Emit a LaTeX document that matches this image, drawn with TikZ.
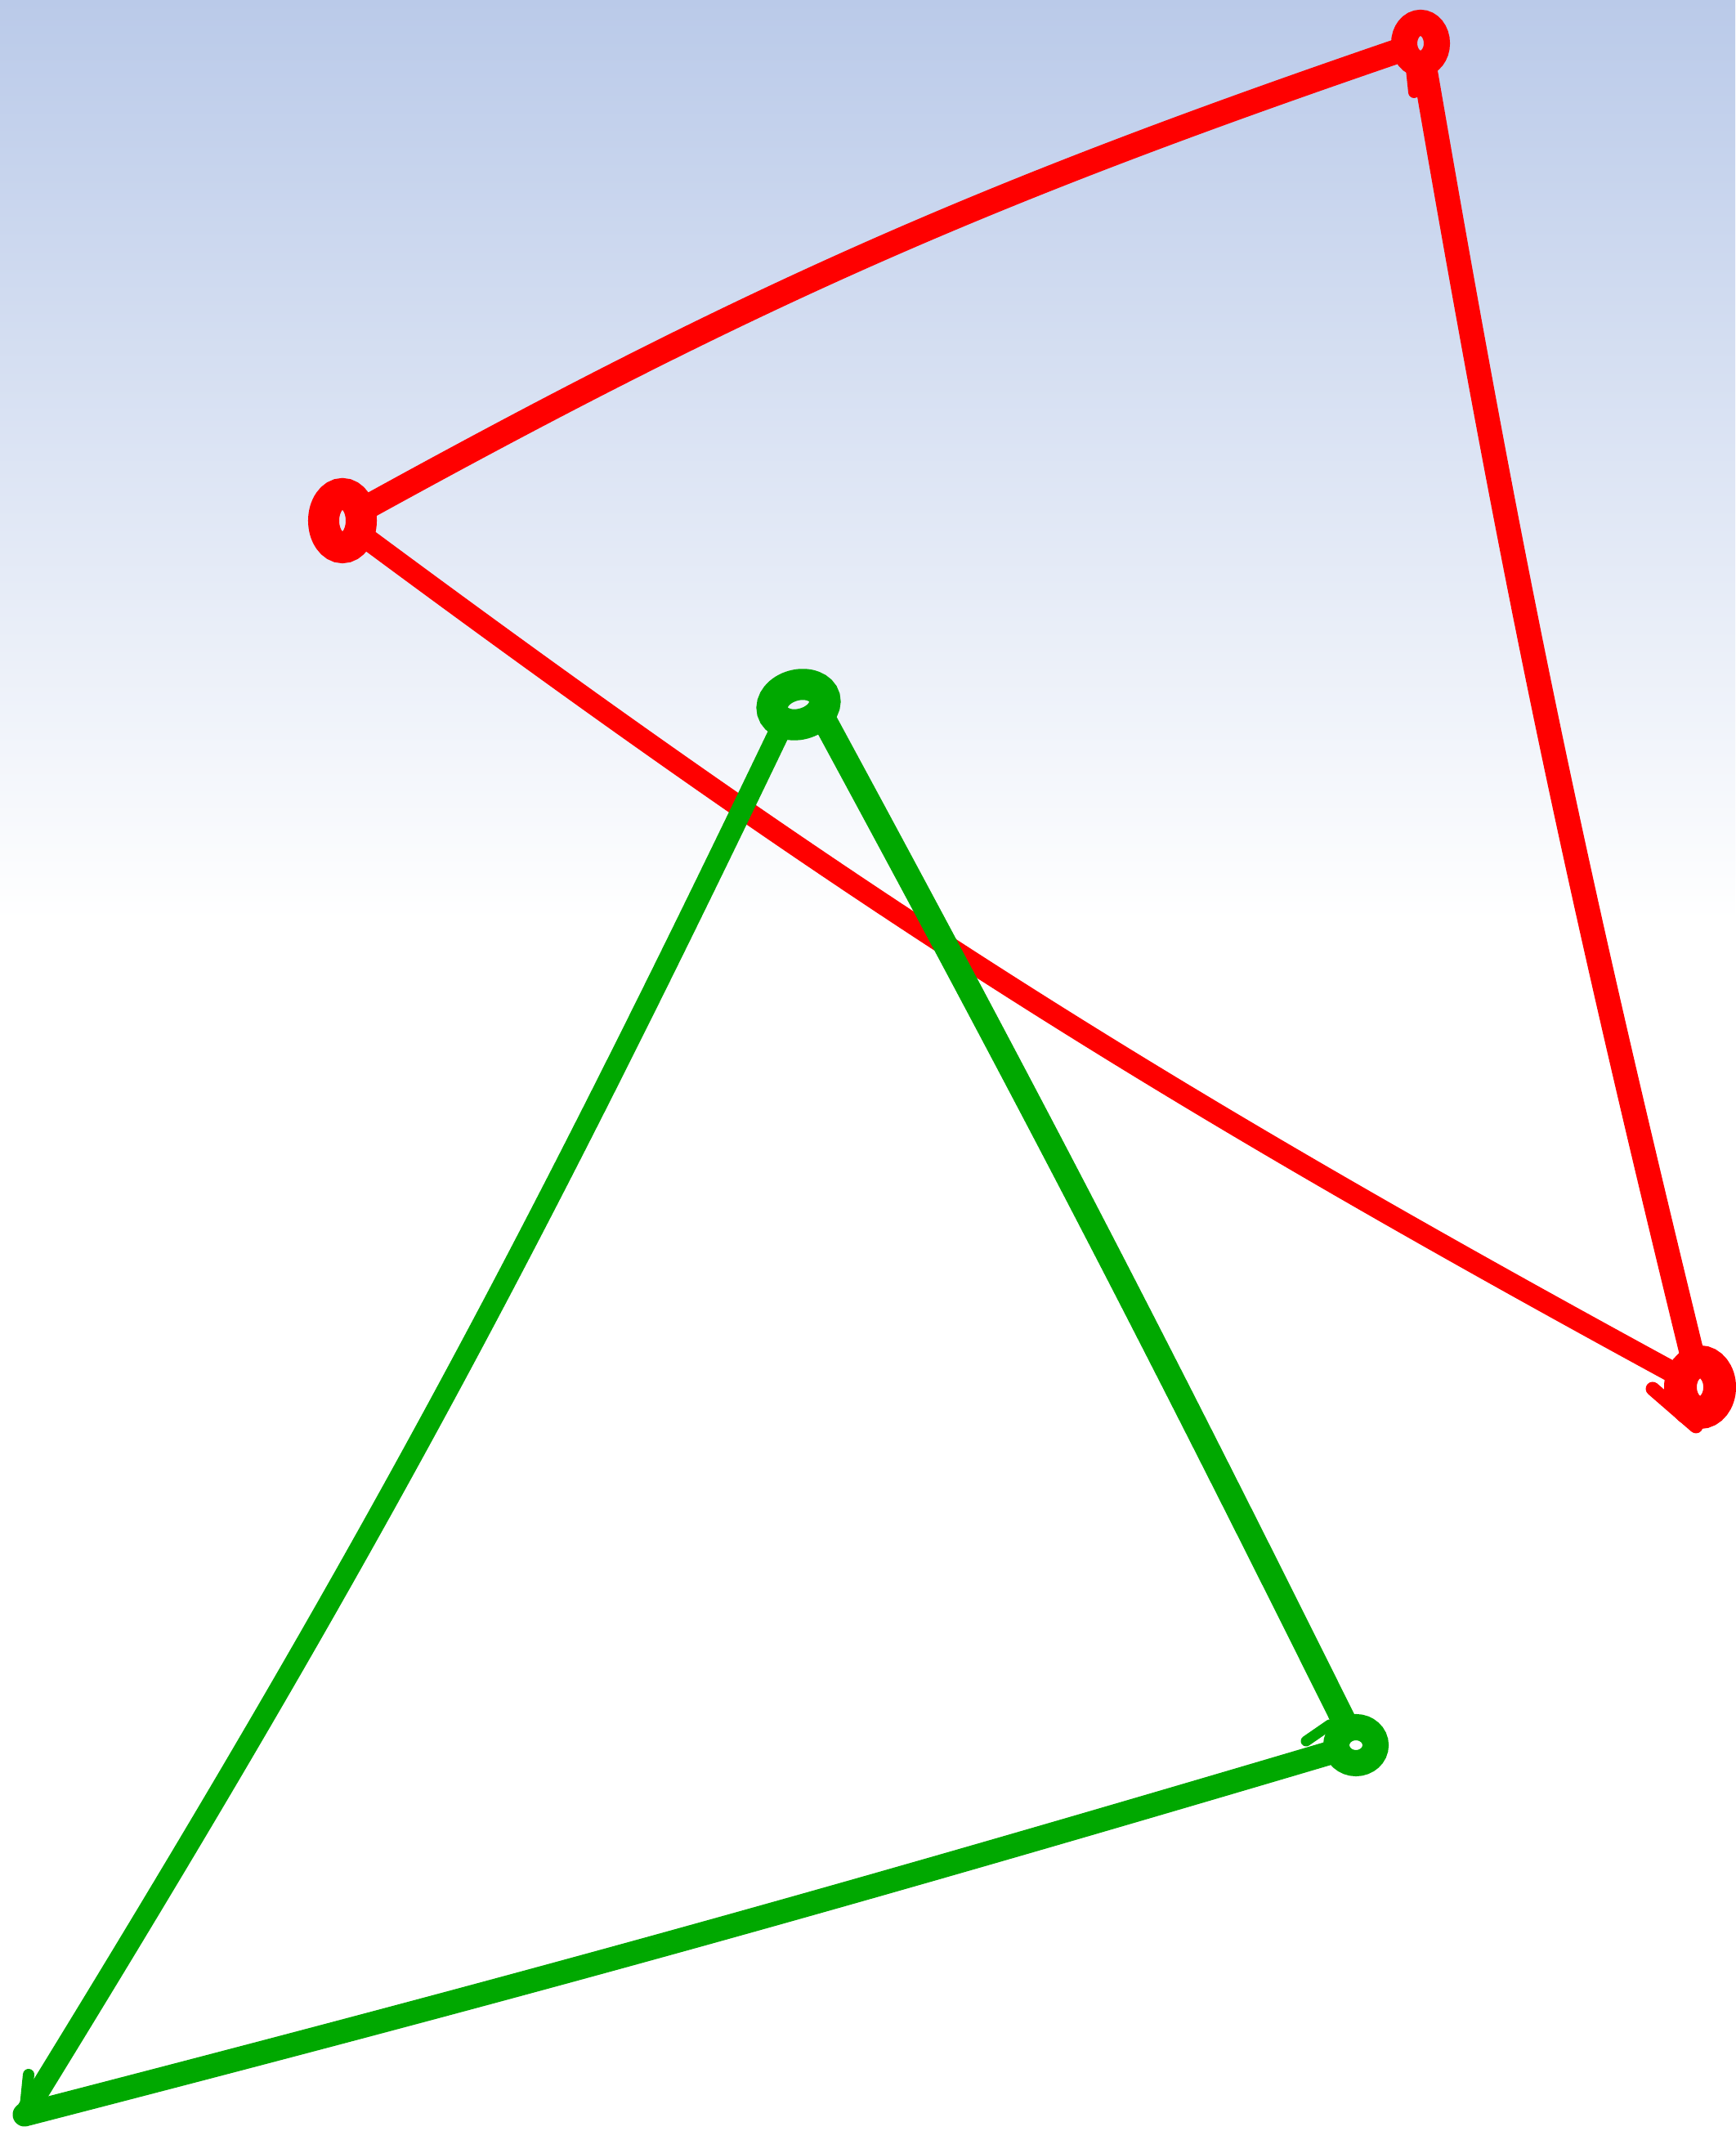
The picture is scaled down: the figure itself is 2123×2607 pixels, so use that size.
\documentclass[tikz,border=0pt]{standalone}
\usepackage{xcolor}
\usepackage{tikz}
\usetikzlibrary{shapes.geometric, calc}
\definecolor{myred}{RGB}{255,0,0}
\definecolor{mygreen}{RGB}{0,168,0}
\definecolor{skytop}{RGB}{186,202,233}
\tikzset{
  redline/.style={draw=myred, line width=0.30cm, line cap=round, line join=round},
  greenline/.style={draw=mygreen, line width=0.30cm, line cap=round, line join=round},
  redloop/.style={ellipse, draw=myred, inner sep=0pt, outer sep=0pt},
  greenloop/.style={ellipse, draw=mygreen, inner sep=0pt, outer sep=0pt}
}

\begin{document}
\begin{tikzpicture}[x=0.01cm, y=0.01cm]
  % Background
  \useasboundingbox (0,0) rectangle (2123,2607);
  \shade[top color=skytop, bottom color=white] (0,2607) rectangle (2123,1480);

  % Loops
  \node[redloop, minimum width=0.40cm, minimum height=0.50cm, line width=0.32cm] (ra) at (1738,2554) {};
  \node[redloop, minimum width=0.46cm, minimum height=0.66cm, line width=0.38cm] (rb) at (419,1970) {};
  \node[redloop, minimum width=0.48cm, minimum height=0.62cm, line width=0.40cm] (rc) at (2080,910) {};
  \node[greenloop, minimum width=0.66cm, minimum height=0.48cm, line width=0.38cm, rotate=15] (gd) at (977,1745) {};
  \node[greenloop, minimum width=0.48cm, minimum height=0.44cm, line width=0.32cm] (ge) at (1659,472) {};
  \coordinate (gf) at (30,20);

  % Red strokes
  \draw[redline] (rb) to[bend left=5] (ra);
  \draw[redline] (ra) to[bend right=2] (rc);
  \draw[redline, line width=0.26cm] (rb) to[bend right=4] (rc);

  % Green strokes
  \draw[greenline, line width=0.26cm] (gd.south west) to[bend left=3] (gf);
  \draw[greenline] (gd.south east) to[bend left=1] (ge);
  \draw[greenline, line width=0.29cm] (ge) to[bend left=1] (gf);

  % Barbs
  \draw[redline, line width=0.14cm] ($(ra)+(-12,-22)$) -- ($(ra)+(-8,-60)$);
  \draw[redline, line width=0.17cm] ($(rc)+(-58,-2)$) -- ($(rc)+(-5,-48)$);
  \draw[greenline, line width=0.13cm] ($(ge)+(-61,5)$) -- ($(ge)+(-32,25)$);
  \draw[greenline, line width=0.14cm] ($(gf)+(5,49)$) -- (gf);
\end{tikzpicture}
\end{document}
